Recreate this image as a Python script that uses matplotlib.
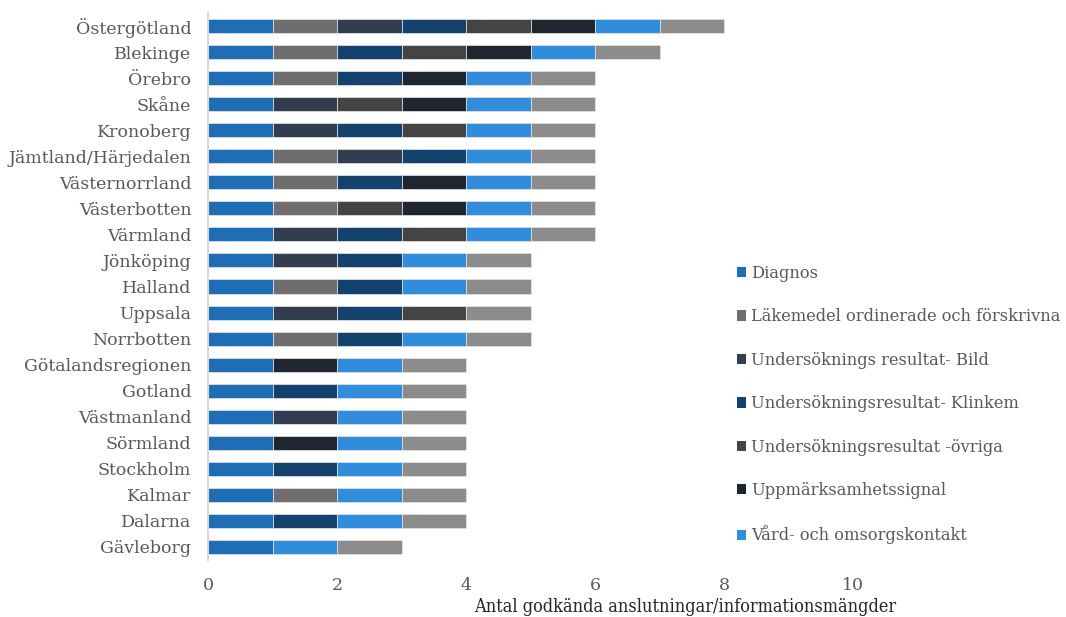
import matplotlib.pyplot as plt
import numpy as np
from matplotlib.patches import Patch

# Regions, top to bottom as in the chart.
regions = ["Östergötland", "Blekinge", "Örebro", "Skåne", "Kronoberg",
           "Jämtland/Härjedalen", "Västernorrland", "Västerbotten", "Värmland",
           "Jönköping", "Halland", "Uppsala", "Norrbotten", "Götalandsregionen",
           "Gotland", "Västmanland", "Sörmland", "Stockholm", "Kalmar",
           "Dalarna", "Gävleborg"]

# One value per region for each information set (1 = approved connection).
diagnos   = [1, 1, 1, 1, 1, 1, 1, 1, 1, 1, 1, 1, 1, 1, 1, 1, 1, 1, 1, 1, 1]
lakemedel = [1, 1, 1, 0, 0, 1, 1, 1, 0, 0, 1, 0, 1, 0, 0, 0, 0, 0, 1, 0, 0]
bild      = [1, 0, 0, 1, 1, 1, 0, 0, 1, 1, 0, 1, 0, 0, 0, 1, 0, 0, 0, 0, 0]
klinkem   = [1, 1, 1, 0, 1, 1, 1, 0, 1, 1, 1, 1, 1, 0, 1, 0, 0, 1, 0, 1, 0]
ovriga    = [1, 1, 0, 1, 1, 0, 0, 1, 1, 0, 0, 1, 0, 0, 0, 0, 0, 0, 0, 0, 0]
signal    = [1, 1, 1, 1, 0, 0, 1, 1, 0, 0, 0, 0, 0, 1, 0, 0, 1, 0, 0, 0, 0]
vard      = [1, 1, 1, 1, 1, 1, 1, 1, 1, 1, 1, 0, 1, 1, 1, 1, 1, 1, 1, 1, 1]
ovrigt    = [1, 1, 1, 1, 1, 1, 1, 1, 1, 1, 1, 1, 1, 1, 1, 1, 1, 1, 1, 1, 1]

series = [
    ("Diagnos", diagnos, "#1f6db5"),
    ("Läkemedel ordinerade och förskrivna", lakemedel, "#6e6e6e"),
    ("Undersöknings resultat- Bild", bild, "#323e4f"),
    ("Undersökningsresultat- Klinkem", klinkem, "#13426f"),
    ("Undersökningsresultat -övriga", ovriga, "#444444"),
    ("Uppmärksamhetssignal", signal, "#1f2630"),
    ("Vård- och omsorgskontakt", vard, "#318ddc"),
    ("Övrigt", ovrigt, "#8c8c8c"),
]

txt = "#595959"
font = "DejaVu Serif"

fig = plt.figure(figsize=(10.66, 6.17), dpi=100)
ax = fig.add_axes([208 / 1066, 1 - 560 / 617, (853 - 208) / 1066, (560 - 13) / 617])

y = np.arange(len(regions))
left = np.zeros(len(regions))
for name, vals, col in series:
    vals = np.array(vals)
    ax.barh(y, vals, left=left, height=0.54, color=col,
            edgecolor="#e6e6e6", linewidth=0.5)
    left += vals

ax.set_ylim(len(regions) - 0.5, -0.5)
ax.set_xlim(0, 10)
ax.set_yticks(y)
ax.set_yticklabels(regions, fontsize=12.5, color=txt, family=font)
ax.set_xticks(np.arange(0, 11, 2))
ax.set_xticklabels([str(v) for v in range(0, 11, 2)], fontsize=12.5,
                   color=txt, family=font)
ax.tick_params(axis="both", length=0)
ax.tick_params(axis="x", pad=12)
ax.tick_params(axis="y", pad=12)

for s in ["top", "right", "bottom"]:
    ax.spines[s].set_visible(False)
ax.spines["left"].set_color("#d9d9d9")
ax.spines["left"].set_linewidth(1.5)

fig.text(685 / 1066, 1 - 607 / 617, "Antal godkända anslutningar/informationsmängder",
         ha="center", va="center", fontsize=13, color="#262626",
         family=font, fontstretch="condensed")

handles = [Patch(facecolor=c, label=n) for n, v, c in series[:-1]]
leg = fig.legend(handles=handles, loc="upper left",
                 bbox_to_anchor=(722 / 1066, 1 - 250 / 617), frameon=False,
                 handlelength=0.6, handleheight=0.6, handletextpad=0.3,
                 labelspacing=1.63, prop={"family": font, "size": 11.7})
for t in leg.get_texts():
    t.set_color(txt)

fig.savefig("out.png", dpi=100)
